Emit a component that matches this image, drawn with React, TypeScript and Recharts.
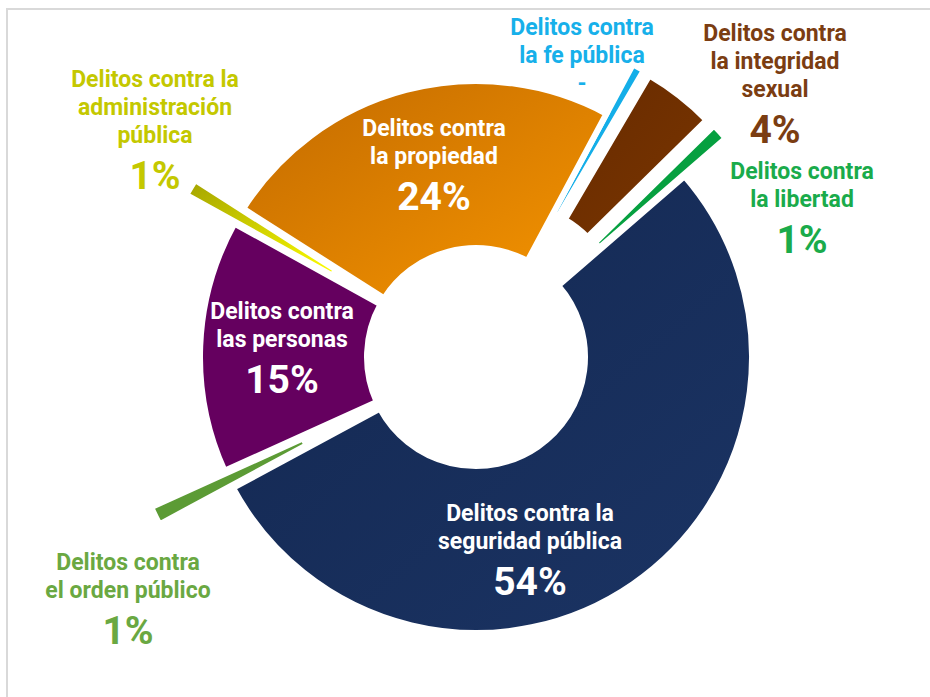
import { PieChart, Pie, Sector, Tooltip } from 'recharts';

// clockwise from the top, the way the slices sit in the picture
const categories = [
  'Delitos contra\nla fe pública',
  'Delitos contra\nla integridad\nsexual',
  'Delitos contra\nla libertad',
  'Delitos contra la\nseguridad pública',
  'Delitos contra\nel orden público',
  'Delitos contra\nlas personas',
  'Delitos contra la\nadministración\npública',
  'Delitos contra\nla propiedad',
];
const shares = [0.6, 4.2, 1.0, 53.5, 1.1, 14.8, 1.0, 23.8];
const shownLabels = ['-', '4%', '1%', '54%', '1%', '15%', '1%', '24%'];

// looks only: fill, text colour, how far the slice is pulled out, label offset from the centre
const SLICE_STYLE = [
  { fill: '#14aee8', text: '#17b0ea', explode: 55, dx: 106, dy: -322 },
  { fill: 'url(#gBrown)', text: '#7b3d12', explode: 55, dx: 299, dy: -316 },
  { fill: '#06a040', text: '#1aab4b', explode: 56, dx: 326, dy: -178 },
  { fill: 'url(#gNavy)', text: '#ffffff', explode: 0, dx: 54, dy: 164 },
  { fill: '#5c9b35', text: '#6aa842', explode: 82, dx: -348, dy: 213 },
  { fill: '#65005f', text: '#ffffff', explode: 0, dx: -194, dy: -38 },
  { fill: 'url(#gYellow)', text: '#c4c800', explode: 56, dx: -321, dy: -270 },
  { fill: 'url(#gOrange)', text: '#ffffff', explode: 0, dx: -42, dy: -221 },
];

const RADIAN = Math.PI / 180;
const FONT = 'Roboto, "Open Sans", sans-serif';

const rows = categories.map((c, i) => ({ name: c.replace(/\n/g, ' '), value: shares[i], idx: i }));

function ExplodedSlice(props: any) {
  const { cx, cy, innerRadius, outerRadius, startAngle, endAngle, midAngle } = props;
  const i = props.idx ?? props.payload?.idx ?? 0;
  const s = SLICE_STYLE[i];
  const ox = s.explode * Math.cos(-midAngle * RADIAN);
  const oy = s.explode * Math.sin(-midAngle * RADIAN);
  return (
    <Sector
      cx={cx + ox}
      cy={cy + oy}
      innerRadius={innerRadius}
      outerRadius={outerRadius}
      startAngle={startAngle}
      endAngle={endAngle}
      fill={s.fill}
      stroke="#ffffff"
      strokeWidth={i === 0 ? 4 : 6}
    />
  );
}

function SliceLabel(props: any) {
  const { cx, cy, index } = props;
  const s = SLICE_STYLE[index];
  const x = cx + s.dx;
  const y = cy + s.dy;
  const lines = categories[index].split('\n');
  const pct = shownLabels[index];
  const small = pct === '-';
  return (
    <text x={x} y={y} textAnchor="middle" fill={s.text} fontFamily={FONT} fontWeight={700}>
      {lines.map((l, k) => (
        <tspan key={k} x={x} dy={k === 0 ? 0 : 28} fontSize={23}>
          {l}
        </tspan>
      ))}
      <tspan x={x} dy={small ? 28 : 46} fontSize={small ? 23 : 39}>
        {pct}
      </tspan>
    </text>
  );
}

export default function App() {
  return (
    <div
      style={{
        position: 'absolute',
        left: 0,
        top: 0,
        width: 930,
        height: 697,
        background: '#ffffff',
        overflow: 'hidden',
      }}
    >
      <div
        style={{
          position: 'absolute',
          left: 6,
          top: 8,
          width: 1000,
          height: 1000,
          borderTop: '2px solid #d9d9d9',
          borderLeft: '2px solid #d9d9d9',
        }}
      />
      <div style={{ position: 'absolute', left: 0, top: 0 }}>
        <PieChart width={930} height={697} margin={{ top: 0, right: 0, bottom: 0, left: 0 }}>
          <defs>
            <linearGradient id="gOrange" x1="0" y1="0" x2="1" y2="1">
              <stop offset="0" stopColor="#c26a00" />
              <stop offset="1" stopColor="#f69500" />
            </linearGradient>
            <linearGradient id="gYellow" x1="0" y1="0" x2="1" y2="1">
              <stop offset="0" stopColor="#a3a300" />
              <stop offset="1" stopColor="#ffff00" />
            </linearGradient>
            <linearGradient id="gNavy" x1="0" y1="0" x2="1" y2="1">
              <stop offset="0" stopColor="#132750" />
              <stop offset="1" stopColor="#1b3464" />
            </linearGradient>
            <linearGradient id="gBrown" x1="0" y1="0" x2="1" y2="1">
              <stop offset="0" stopColor="#672a00" />
              <stop offset="1" stopColor="#7a3600" />
            </linearGradient>
          </defs>
          <Tooltip defaultIndex={0} content={() => null} />
          <Pie
            data={rows}
            dataKey="value"
            nameKey="name"
            cx={476}
            cy={357}
            innerRadius={109}
            outerRadius={276}
            startAngle={61.8}
            endAngle={-298.2}
            stroke="#ffffff"
            strokeWidth={6}
            activeShape={ExplodedSlice}
            inactiveShape={ExplodedSlice}
            shape={ExplodedSlice}
            label={SliceLabel}
            labelLine={false}
            isAnimationActive={false}
          />
        </PieChart>
      </div>
    </div>
  );
}
